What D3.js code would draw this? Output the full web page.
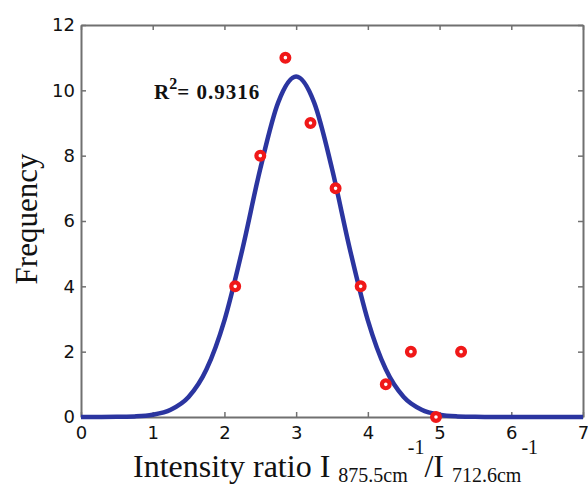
<!DOCTYPE html>
<html>
<head>
<meta charset="utf-8">
<script src="https://cdn.jsdelivr.net/npm/d3@7"></script>
<style>
  html, body { margin: 0; padding: 0; background: #fff; }
  svg { display: block; }
</style>
</head>
<body>
<svg id="chart" width="588" height="487"></svg>
<script>
// Observed frequencies (red circles)
const obsX = [2.15, 2.5, 2.85, 3.2, 3.55, 3.9, 4.25, 4.6, 4.95, 5.3];
const obsY = [4, 8, 11, 9, 7, 4, 1, 2, 0, 2];

// Fitted curve
const fitX = [0, 0.5, 0.75, 1.0, 1.25, 1.5, 1.75, 2.0, 2.25, 2.5, 2.75, 3.0, 3.25, 3.5, 3.75, 4.0, 4.25, 4.5, 4.75, 5.0, 5.25, 5.5, 6.0, 7.0];
const fitY = [0, 0.004, 0.018, 0.068, 0.22, 0.61, 1.46, 2.96, 5.13, 7.60, 9.63, 10.42, 9.63, 7.60, 5.13, 2.96, 1.46, 0.61, 0.22, 0.068, 0.018, 0.004, 0, 0];

const xTicks = [0, 1, 2, 3, 4, 5, 6, 7];
const yTicks = [0, 2, 4, 6, 8, 10, 12];
const rSquared = "0.9316";

const svg = d3.select("#chart");
const m = { left: 81, right: 583, top: 25, bottom: 417 };

const x = d3.scaleLinear().domain([0, 7]).range([m.left, m.right]);
const y = d3.scaleLinear().domain([0, 12]).range([m.bottom, m.top]);

const axisColor = "#707070";
const tickFont = "'DejaVu Sans', Verdana, sans-serif";

// Bottom axis
const gx = svg.append("g").attr("transform", `translate(0,${m.bottom})`)
  .call(d3.axisBottom(x).tickValues(xTicks).tickSizeInner(-5).tickSizeOuter(0).tickPadding(9).tickFormat(d3.format("d")));
// Top axis (ticks only)
const gxt = svg.append("g").attr("transform", `translate(0,${m.top})`)
  .call(d3.axisTop(x).tickValues(xTicks).tickSizeInner(-5).tickSizeOuter(0).tickFormat(""));
// Left axis
const gy = svg.append("g").attr("transform", `translate(${m.left},0)`)
  .call(d3.axisLeft(y).tickValues(yTicks).tickSizeInner(-5).tickSizeOuter(0).tickPadding(6).tickFormat(d3.format("d")));
// Right axis (ticks only)
const gyr = svg.append("g").attr("transform", `translate(${m.right},0)`)
  .call(d3.axisRight(y).tickValues(yTicks).tickSizeInner(-5).tickSizeOuter(0).tickFormat(""));

[gx, gxt, gy, gyr].forEach(g => {
  g.select(".domain").attr("stroke", axisColor).attr("stroke-width", 2);
  g.selectAll(".tick line").attr("stroke", axisColor).attr("stroke-width", 1.5);
  g.selectAll(".tick text").attr("fill", "#111").style("font-family", tickFont).style("font-size", "18px");
});

// Fitted curve
const fitData = fitX.map((v, i) => [v, fitY[i]]);
svg.append("path")
  .datum(fitData)
  .attr("fill", "none")
  .attr("stroke", "#2b35a0")
  .attr("stroke-width", 4.5)
  .attr("stroke-linejoin", "round")
  .attr("d", d3.line().x(d => x(d[0])).y(d => y(d[1])).curve(d3.curveMonotoneX));

// Observed points
const obs = obsX.map((v, i) => [v, obsY[i]]);
svg.append("g").selectAll("circle")
  .data(obs)
  .join("circle")
  .attr("cx", d => x(d[0]))
  .attr("cy", d => y(d[1]))
  .attr("r", 3.9)
  .attr("fill", "#fff")
  .attr("stroke", "#f01818")
  .attr("stroke-width", 4.2);

// R^2 annotation
const rt = svg.append("text")
  .attr("x", 154).attr("y", 99)
  .style("font-family", "'Liberation Serif', 'Times New Roman', serif")
  .style("font-weight", "bold")
  .style("font-size", "21px")
  .attr("fill", "#111");
rt.append("tspan").text("R");
rt.append("tspan").attr("dy", -10).style("font-size", "16px").text("2");
rt.append("tspan").attr("dy", 10).style("letter-spacing", "1px").text("= " + rSquared);

// Y-axis title
svg.append("text")
  .attr("transform", "translate(37,219) rotate(-90)")
  .attr("text-anchor", "middle")
  .style("font-family", "'Liberation Serif', 'Times New Roman', serif")
  .style("font-size", "31px")
  .attr("fill", "#111")
  .text("Frequency");

// X-axis title
const xt = svg.append("text")
  .attr("x", 133).attr("y", 477)
  .style("font-family", "'Liberation Serif', 'Times New Roman', serif")
  .style("font-size", "32px")
  .attr("fill", "#111");
xt.append("tspan").text("Intensity ratio I ");
xt.append("tspan").attr("dy", 5).style("font-size", "20px").text("875.5cm");
xt.append("tspan").attr("dy", -28).style("font-size", "20px").text("-1");
xt.append("tspan").attr("dy", 23).text("/I ");
xt.append("tspan").attr("dy", 5).style("font-size", "20px").text("712.6cm");
xt.append("tspan").attr("dy", -28).style("font-size", "20px").text("-1");
</script>
</body>
</html>
